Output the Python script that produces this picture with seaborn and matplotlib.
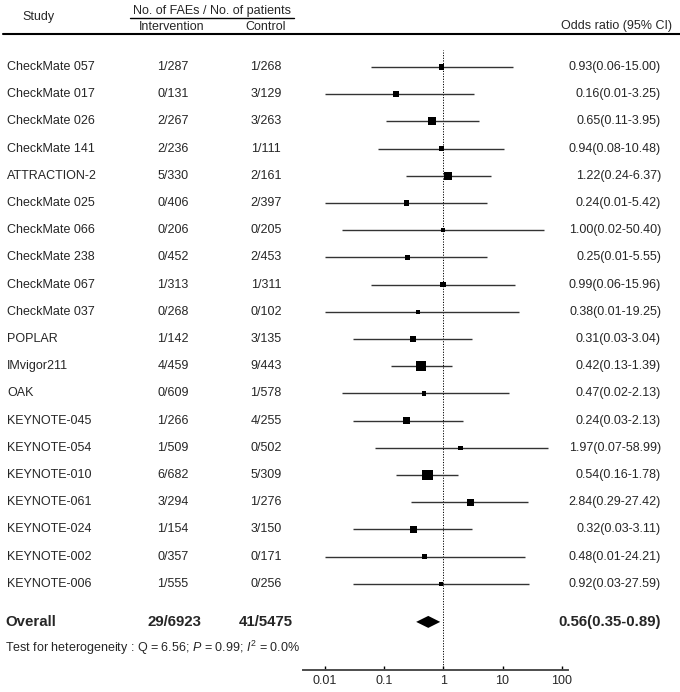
import numpy as np
import pandas as pd
import matplotlib
matplotlib.use("Agg")
import matplotlib.pyplot as plt
import seaborn as sns
from matplotlib.transforms import blended_transform_factory
from matplotlib.lines import Line2D

# ---------------- data ----------------
studies = ["CheckMate 057", "CheckMate 017", "CheckMate 026", "CheckMate 141",
           "ATTRACTION-2", "CheckMate 025", "CheckMate 066", "CheckMate 238",
           "CheckMate 067", "CheckMate 037", "POPLAR", "IMvigor211", "OAK",
           "KEYNOTE-045", "KEYNOTE-054", "KEYNOTE-010", "KEYNOTE-061",
           "KEYNOTE-024", "KEYNOTE-002", "KEYNOTE-006"]
int_events = [1, 0, 2, 2, 5, 0, 0, 0, 1, 0, 1, 4, 0, 1, 1, 6, 3, 1, 0, 1]
int_total = [287, 131, 267, 236, 330, 406, 206, 452, 313, 268, 142, 459, 609,
             266, 509, 682, 294, 154, 357, 555]
ctrl_events = [1, 3, 3, 1, 2, 2, 0, 2, 1, 0, 3, 9, 1, 4, 0, 5, 1, 3, 0, 0]
ctrl_total = [268, 129, 263, 111, 161, 397, 205, 453, 311, 102, 135, 443, 578,
              255, 502, 309, 276, 150, 171, 256]
or_est = [0.93, 0.16, 0.65, 0.94, 1.22, 0.24, 1.00, 0.25, 0.99, 0.38, 0.31,
          0.42, 0.47, 0.24, 1.97, 0.54, 2.84, 0.32, 0.48, 0.92]
ci_lo = [0.06, 0.01, 0.11, 0.08, 0.24, 0.01, 0.02, 0.01, 0.06, 0.01, 0.03,
         0.13, 0.02, 0.03, 0.07, 0.16, 0.29, 0.03, 0.01, 0.03]
ci_hi = [15.00, 3.25, 3.95, 10.48, 6.37, 5.42, 50.40, 5.55, 15.96, 19.25, 3.04,
         1.39, 13.0, 2.13, 58.99, 1.78, 27.42, 3.11, 24.21, 27.59]
or_text = ["0.93(0.06-15.00)", "0.16(0.01-3.25)", "0.65(0.11-3.95)",
           "0.94(0.08-10.48)", "1.22(0.24-6.37)", "0.24(0.01-5.42)",
           "1.00(0.02-50.40)", "0.25(0.01-5.55)", "0.99(0.06-15.96)",
           "0.38(0.01-19.25)", "0.31(0.03-3.04)", "0.42(0.13-1.39)",
           "0.47(0.02-2.13)", "0.24(0.03-2.13)", "1.97(0.07-58.99)",
           "0.54(0.16-1.78)", "2.84(0.29-27.42)", "0.32(0.03-3.11)",
           "0.48(0.01-24.21)", "0.92(0.03-27.59)"]
# study weight shown as box side (px)
box_px = [5.5, 5.5, 8, 5.5, 8, 5.5, 4, 5.5, 5.5, 4, 6.5, 10.5, 4.5, 7, 4.5,
          10.5, 7, 7, 4.5, 4]

overall_int = "29/6923"
overall_ctrl = "41/5475"
overall_est, overall_lo, overall_hi = 0.56, 0.35, 0.89
overall_text = "0.56(0.35-0.89)"
het_text = (r"Test for heterogeneity : Q = 6.56; $\mathit{P}$ = 0.99; "
            r"$\mathit{I}^{2}$ = 0.0%")
tick_vals = [0.01, 0.1, 1, 10, 100]
tick_labels = ["0.01", "0.1", "1", "10", "100"]

# ---------------- style ----------------
sns.set_theme(style="white")
plt.rcParams["font.family"] = ["Liberation Sans", "DejaVu Sans"]
plt.rcParams["mathtext.fontset"] = "custom"
plt.rcParams["mathtext.rm"] = "Liberation Sans"
plt.rcParams["mathtext.it"] = "Liberation Sans:italic"
plt.rcParams["mathtext.bf"] = "Liberation Sans:bold"

W, H = 680, 692
fig = plt.figure(figsize=(W / 100, H / 100), dpi=100)
fig.patch.set_facecolor("white")


def fx(px):
    return px / W


def fy(py):
    return 1 - py / H


ax = fig.add_axes([fx(302.7), fy(669.5), fx(568) - fx(302.7), fy(50) - fy(669.5)])
ax.set_xscale("log")
ax.set_facecolor("white")

n = len(studies)
df = pd.DataFrame({"study": studies, "row": np.arange(n), "est": or_est,
                   "lo": ci_lo, "hi": ci_hi, "box": box_px})

ax.hlines(df["row"], df["lo"], df["hi"], color="#333333", lw=1.0, zorder=2)
sns.scatterplot(data=df, x="est", y="row", marker="s",
                s=((df["box"].to_numpy() * 0.72) ** 2), color="black",
                linewidth=0, legend=False, ax=ax, zorder=3)

y_overall = 20.40
y_het = 21.34
dh = 0.22
ax.fill([overall_lo, overall_est, overall_hi, overall_est],
        [y_overall, y_overall - dh, y_overall, y_overall + dh],
        color="black", lw=0, zorder=3)

ax.axvline(1, color="black", lw=0.7, ls=(0, (1.2, 1.5)), zorder=1)

ax.set_xlim(10 ** ((302.7 - 443.2) / 59.3), 10 ** ((568 - 443.2) / 59.3))
ax.set_ylim(22.15, -0.625)
ax.set_xticks(tick_vals)
ax.set_xticklabels(tick_labels)
ax.minorticks_off()
ax.tick_params(axis="x", direction="in", length=3.2, width=1.0, color="black",
               pad=4, labelsize=9, bottom=True)
ax.set_yticks([])
ax.set_xlabel("")
ax.set_ylabel("")
for side in ["top", "left", "right"]:
    ax.spines[side].set_visible(False)
ax.spines["bottom"].set_color("#4d4d4d")
ax.spines["bottom"].set_linewidth(1.4)

# ---------------- text columns ----------------
tr = blended_transform_factory(fig.transFigure, ax.transData)
fs = 9
for i in range(n):
    ax.text(fx(7), i, studies[i], transform=tr, ha="left", va="center", fontsize=fs)
    ax.text(fx(173), i, f"{int_events[i]}/{int_total[i]}", transform=tr,
            ha="center", va="center", fontsize=fs)
    ax.text(fx(266), i, f"{ctrl_events[i]}/{ctrl_total[i]}", transform=tr,
            ha="center", va="center", fontsize=fs)
    ax.text(fx(661), i, or_text[i], transform=tr, ha="right", va="center",
            fontsize=fs)

bfs = 10.8
ax.text(fx(5), y_overall, "Overall", transform=tr, ha="left", va="center",
        fontsize=bfs, fontweight="bold")
ax.text(fx(174), y_overall, overall_int, transform=tr, ha="center", va="center",
        fontsize=bfs, fontweight="bold")
ax.text(fx(266), y_overall, overall_ctrl, transform=tr, ha="center", va="center",
        fontsize=bfs, fontweight="bold")
ax.text(fx(661), y_overall, overall_text, transform=tr, ha="right", va="center",
        fontsize=bfs, fontweight="bold")
ax.text(fx(5), y_het, het_text, transform=tr, ha="left", va="center", fontsize=fs)

# ---------------- header ----------------
fig.text(fx(38), fy(17), "Study", ha="center", va="center", fontsize=fs)
fig.text(fx(212), fy(11), "No. of FAEs / No. of patients", ha="center",
         va="center", fontsize=fs)
fig.add_artist(Line2D([fx(130), fx(294)], [fy(18), fy(18)], lw=1.0,
                      color="black", transform=fig.transFigure))
fig.text(fx(172), fy(27), "Intervention", ha="center", va="center", fontsize=fs)
fig.text(fx(266), fy(27), "Control", ha="center", va="center", fontsize=fs)
fig.text(fx(672), fy(26.5), "Odds ratio (95% CI)", ha="right", va="center",
         fontsize=fs)
fig.add_artist(Line2D([fx(3), fx(680)], [fy(34), fy(34)], lw=1.5,
                      color="black", transform=fig.transFigure))

fig.savefig("out.png", dpi=100, facecolor="white")
